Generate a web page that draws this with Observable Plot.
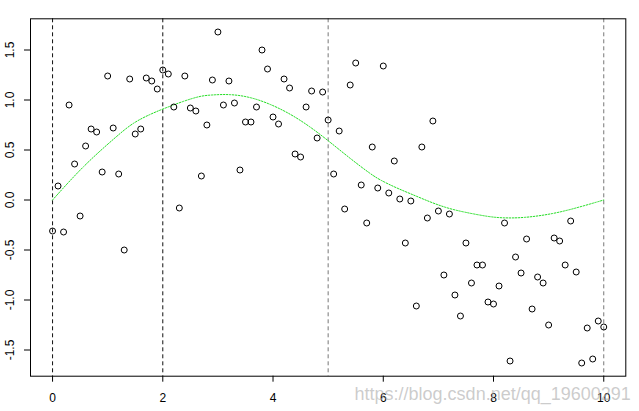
<!DOCTYPE html>
<html>
<head>
<meta charset="utf-8">
<script src="https://cdn.jsdelivr.net/npm/d3@7"></script>
<script src="https://cdn.jsdelivr.net/npm/@observablehq/plot@0.6"></script>
<style>
  html, body { margin: 0; padding: 0; background: #fff; }
  #chart svg { display: block; }
</style>
</head>
<body>
<div id="chart"></div>
<script>
// Scatter data (x, y)
const xs = [0,0.1,0.2,0.3,0.4,0.5,0.6,0.7,0.8,0.9,1,1.1,1.2,1.3,1.4,1.5,1.6,1.7,1.8,1.9,2,2.1,2.2,2.3,2.4,2.5,2.6,2.7,2.8,2.9,3,3.1,3.2,3.3,3.4,3.5,3.6,3.7,3.8,3.9,4,4.1,4.2,4.3,4.4,4.5,4.6,4.7,4.8,4.9,5,5.1,5.2,5.3,5.4,5.5,5.6,5.7,5.8,5.9,6,6.1,6.2,6.3,6.4,6.5,6.6,6.7,6.8,6.9,7,7.1,7.2,7.3,7.4,7.5,7.6,7.7,7.8,7.9,8,8.1,8.2,8.3,8.4,8.5,8.6,8.7,8.8,8.9,9,9.1,9.2,9.3,9.4,9.5,9.6,9.7,9.8,9.9,10];
const ys = [-0.31,0.14,-0.32,0.95,0.36,-0.16,0.54,0.71,0.68,0.28,1.24,0.72,0.26,-0.50,1.21,0.66,0.71,1.22,1.19,1.11,1.30,1.26,0.93,-0.08,1.24,0.92,0.89,0.24,0.75,1.20,1.68,0.95,1.19,0.97,0.30,0.78,0.78,0.93,1.50,1.31,0.83,0.76,1.21,1.12,0.46,0.43,0.93,1.09,0.62,1.08,0.80,0.26,0.69,-0.09,1.15,1.37,0.15,-0.23,0.53,0.12,1.34,0.07,0.39,0.01,-0.43,-0.01,-1.06,0.53,-0.18,0.79,-0.11,-0.75,-0.14,-0.95,-1.16,-0.43,-0.83,-0.65,-0.65,-1.02,-1.04,-0.86,-0.23,-1.61,-0.57,-0.73,-0.39,-1.09,-0.77,-0.83,-1.25,-0.38,-0.41,-0.65,-0.21,-0.72,-1.63,-1.28,-1.59,-1.21,-1.27];

// Fitted curve samples
const fitX = [0,0.57,1.17,1.45,1.78,2.0,2.38,2.68,2.86,3.22,3.59,3.95,4.32,4.68,5.01,5.41,5.77,5.94,6.24,6.55,6.85,7.15,7.45,7.93,8.18,8.54,9.08,9.57,10];
const fitY = [0,0.35,0.64,0.77,0.86,0.91,0.99,1.04,1.05,1.06,1.03,0.96,0.86,0.73,0.59,0.41,0.26,0.20,0.12,0.05,-0.02,-0.08,-0.12,-0.17,-0.18,-0.18,-0.14,-0.07,0];

// Knot lines
const knotsDark = [0, 2];
const knotsGrey = [5, 10];

// Tick labels
const xTicks = [0, 2, 4, 6, 8, 10];
const yTicks = [-1.5, -1.0, -0.5, 0.0, 0.5, 1.0, 1.5];
const yTickLabels = ["-1.5", "-1.0", "-0.5", "0.0", "0.5", "1.0", "1.5"];
const watermark = "https://blog.csdn.net/qq_19600291";

const points = xs.map((x, i) => ({x, y: ys[i]}));
const fit = fitX.map((x, i) => ({x, y: fitY[i]}));
const yLab = yTicks.map((v, i) => ({v, t: yTickLabels[i]}));

const chart = Plot.plot({
  width: 639,
  height: 411,
  marginLeft: 30,
  marginRight: 13.7,
  marginTop: 18.3,
  marginBottom: 35.3,
  style: {fontFamily: "'Liberation Sans', Arial, sans-serif", fontSize: "12px", color: "#000", background: "#fff"},
  x: {domain: [-0.4, 10.4], label: null},
  y: {domain: [-1.762, 1.812], label: null},
  marks: [
    Plot.ruleX(knotsDark, {stroke: "#111", strokeWidth: 1, strokeDasharray: "4,3"}),
    Plot.ruleX(knotsGrey, {stroke: "#777", strokeWidth: 1, strokeDasharray: "4,3"}),
    Plot.line(fit, {x: "x", y: "y", curve: "basis", stroke: "#22dd22", strokeWidth: 1, strokeDasharray: "1.5,1.5"}),
    Plot.dot(points, {x: "x", y: "y", r: 3, stroke: "#000", strokeWidth: 1, fill: "none"}),
    Plot.frame({stroke: "#000", strokeWidth: 1}),
    Plot.axisX(xTicks, {tickSize: 6, tickPadding: 11, fontSize: 12, label: null, tickFormat: d => String(d)}),
    Plot.axisY(yTicks, {tickSize: 6, label: null, tickFormat: () => ""}),
    Plot.text(yLab, {y: "v", text: "t", frameAnchor: "left", dx: -20, rotate: -90, textAnchor: "middle", lineAnchor: "middle", fontSize: 12, fill: "#000"}),
    Plot.text([watermark], {frameAnchor: "bottom-right", dx: 5, dy: 18, textAnchor: "end", lineAnchor: "middle", fontSize: 18, fill: "#aaa", fillOpacity: 0.6})
  ]
});
document.getElementById("chart").appendChild(chart);
</script>
</body>
</html>
